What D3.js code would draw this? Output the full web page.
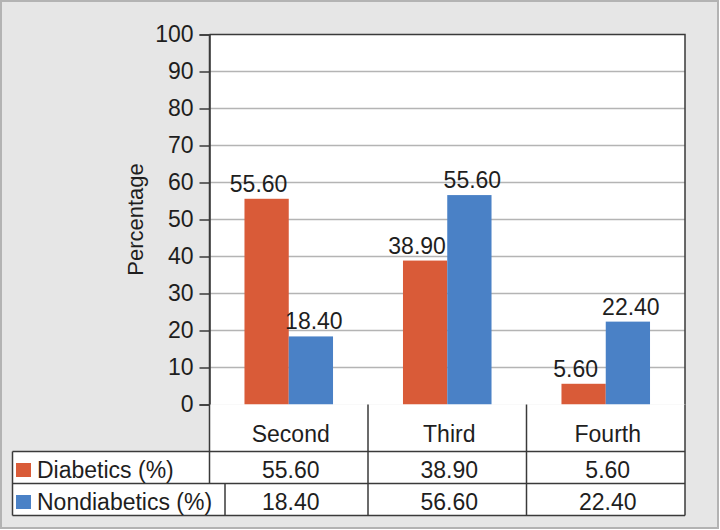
<!DOCTYPE html>
<html lang="en">
<head>
  <meta charset="UTF-8" />
  <title>Diabetics vs Nondiabetics</title>
  <script src="https://cdn.jsdelivr.net/npm/d3@7/dist/d3.min.js"></script>
  <style>
    html, body { margin: 0; padding: 0; background: #fff; }
    #viz { width: 720px; height: 530px; }
    text { font-family: "Liberation Sans", Arial, Helvetica, sans-serif; fill: #1e1e1e; }
  </style>
</head>
<body>
  <div id="viz"></div>

  <script>
  // data
  const categories = ['Second', 'Third', 'Fourth'];
  const diabetics = [55.6, 38.9, 5.6];
  const nondiabetics = [18.4, 56.6, 22.4];
  // labels printed above the bars (as in the figure)
  const diabeticsBarLabels = ['55.60', '38.90', '5.60'];
  const nondiabeticsBarLabels = ['18.40', '55.60', '22.40'];
  // data table rows
  const diabeticsTable = ['55.60', '38.90', '5.60'];
  const nondiabeticsTable = ['18.40', '56.60', '22.40'];
  const seriesNames = ['Diabetics (%)', 'Nondiabetics (%)'];
  const seriesColors = ['#d95b38', '#4a81c6'];
  const yTicks = [0, 10, 20, 30, 40, 50, 60, 70, 80, 90, 100];
  const yTitle = 'Percentage';

  function drawViz() {
    const W = 720, H = 530;
    const plot = { left: 209.5, right: 685, top: 34.5, bottom: 404.5 };
    const rowH = [47, 32, 32];   // category row, diabetics row, nondiabetics row
    const tableLeft = 12.5;
    const fs = 23;

    const svg = d3.select('#viz').append('svg')
      .attr('width', W).attr('height', H);

    // background frame
    svg.append('rect')
      .attr('x', 1).attr('y', 1).attr('width', W - 3).attr('height', H - 3)
      .attr('fill', '#e6e6e6').attr('stroke', '#b3b3b3').attr('stroke-width', 2);

    // plot area
    svg.append('rect')
      .attr('x', plot.left).attr('y', plot.top)
      .attr('width', plot.right - plot.left).attr('height', plot.bottom - plot.top)
      .attr('fill', '#fff');

    const x = d3.scaleBand().domain(categories).range([plot.left, plot.right]);
    const xs = d3.scaleBand().domain([0, 1]).range([0, x.bandwidth()]).paddingOuter(0.79);
    const y = d3.scaleLinear().domain([0, 100]).range([plot.bottom, plot.top]);

    // gridlines
    svg.append('g').selectAll('line')
      .data(yTicks.filter(t => t > 0 && t < 100))
      .enter().append('line')
        .attr('x1', plot.left).attr('x2', plot.right)
        .attr('y1', d => y(d)).attr('y2', d => y(d))
        .attr('stroke', '#b4b4b4').attr('stroke-width', 1.5);

    // bars
    const series = [
      { vals: diabetics, labels: diabeticsBarLabels, dx: -8 },
      { vals: nondiabetics, labels: nondiabeticsBarLabels, dx: 3 }
    ];
    series.forEach((s, si) => {
      const g = svg.append('g');
      g.selectAll('rect')
        .data(s.vals)
        .enter().append('rect')
          .attr('x', (d, i) => x(categories[i]) + xs(si))
          .attr('y', d => y(d))
          .attr('width', xs.bandwidth())
          .attr('height', d => y(0) - y(d))
          .attr('fill', seriesColors[si]);
      g.selectAll('text')
        .data(s.vals)
        .enter().append('text')
          .attr('x', (d, i) => x(categories[i]) + xs(si) + xs.bandwidth() / 2 + s.dx)
          .attr('y', d => y(d) - 7)
          .attr('text-anchor', 'middle')
          .attr('font-size', fs)
          .text((d, i) => s.labels[i]);
    });

    // plot border (top, right)
    svg.append('path')
      .attr('d', `M${plot.left},${plot.top}H${plot.right}V${plot.bottom}`)
      .attr('fill', 'none').attr('stroke', '#3a3a3a').attr('stroke-width', 1.5);

    // y axis
    const yAxis = svg.append('g')
      .attr('transform', `translate(${plot.left},0)`)
      .call(d3.axisLeft(y).tickValues(yTicks).tickSize(10).tickPadding(6));
    yAxis.select('.domain').attr('stroke', '#3a3a3a').attr('stroke-width', 1.5);
    yAxis.selectAll('.tick line').attr('stroke', '#3a3a3a').attr('stroke-width', 1.5);
    yAxis.selectAll('.tick text')
      .attr('font-size', fs).attr('font-family', '"Liberation Sans", Arial, sans-serif')
      .attr('fill', '#1e1e1e');

    svg.append('text')
      .attr('transform', `translate(143,${(plot.top + plot.bottom) / 2}) rotate(-90)`)
      .attr('text-anchor', 'middle')
      .attr('font-size', 22)
      .text(yTitle);

    // data table
    const r0 = plot.bottom, r1 = r0 + rowH[0], r2 = r1 + rowH[1], r3 = r2 + rowH[2];
    const tg = svg.append('g');
    tg.append('rect')
      .attr('x', plot.left).attr('y', r0).attr('width', plot.right - plot.left).attr('height', rowH[0])
      .attr('fill', '#fff');
    tg.append('rect')
      .attr('x', tableLeft).attr('y', r1).attr('width', plot.right - tableLeft).attr('height', r3 - r1)
      .attr('fill', '#fff');

    const lineCol = '#3a3a3a';
    const hLines = [
      [tableLeft, r1, plot.right, r1],
      [tableLeft, r2, plot.right, r2],
      [tableLeft, r3, plot.right, r3],
      [tableLeft, r1, tableLeft, r3],
      [plot.left, plot.top, plot.left, r2],
      [225, r2, 225, r3],
      [plot.right, plot.bottom, plot.right, r3]
    ];
    categories.slice(1).forEach(c => hLines.push([x(c), r0, x(c), r3]));
    tg.selectAll('line.grid')
      .data(hLines)
      .enter().append('line')
        .attr('x1', d => d[0]).attr('y1', d => d[1])
        .attr('x2', d => d[2]).attr('y2', d => d[3])
        .attr('stroke', lineCol).attr('stroke-width', 1.5);

    // category labels
    tg.selectAll('text.cat')
      .data(categories)
      .enter().append('text')
        .attr('x', d => x(d) + x.bandwidth() / 2 + 2)
        .attr('y', r0 + 37)
        .attr('text-anchor', 'middle')
        .attr('font-size', fs)
        .text(d => d);

    // table rows
    const rows = [diabeticsTable, nondiabeticsTable];
    const rowTop = [r1, r2];
    rows.forEach((vals, ri) => {
      tg.selectAll(`text.v${ri}`)
        .data(vals)
        .enter().append('text')
          .attr('x', (d, i) => x(categories[i]) + x.bandwidth() / 2 + 2)
          .attr('y', rowTop[ri] + 26)
          .attr('text-anchor', 'middle')
          .attr('font-size', fs)
          .text(d => d);
      tg.append('rect')
        .attr('x', 16).attr('y', rowTop[ri] + 11.5)
        .attr('width', 15).attr('height', 14)
        .attr('fill', seriesColors[ri]);
      tg.append('text')
        .attr('x', 37).attr('y', rowTop[ri] + 26)
        .attr('font-size', fs)
        .text(seriesNames[ri]);
    });
  }

  document.addEventListener('DOMContentLoaded', drawViz);
  </script>
</body>
</html>
